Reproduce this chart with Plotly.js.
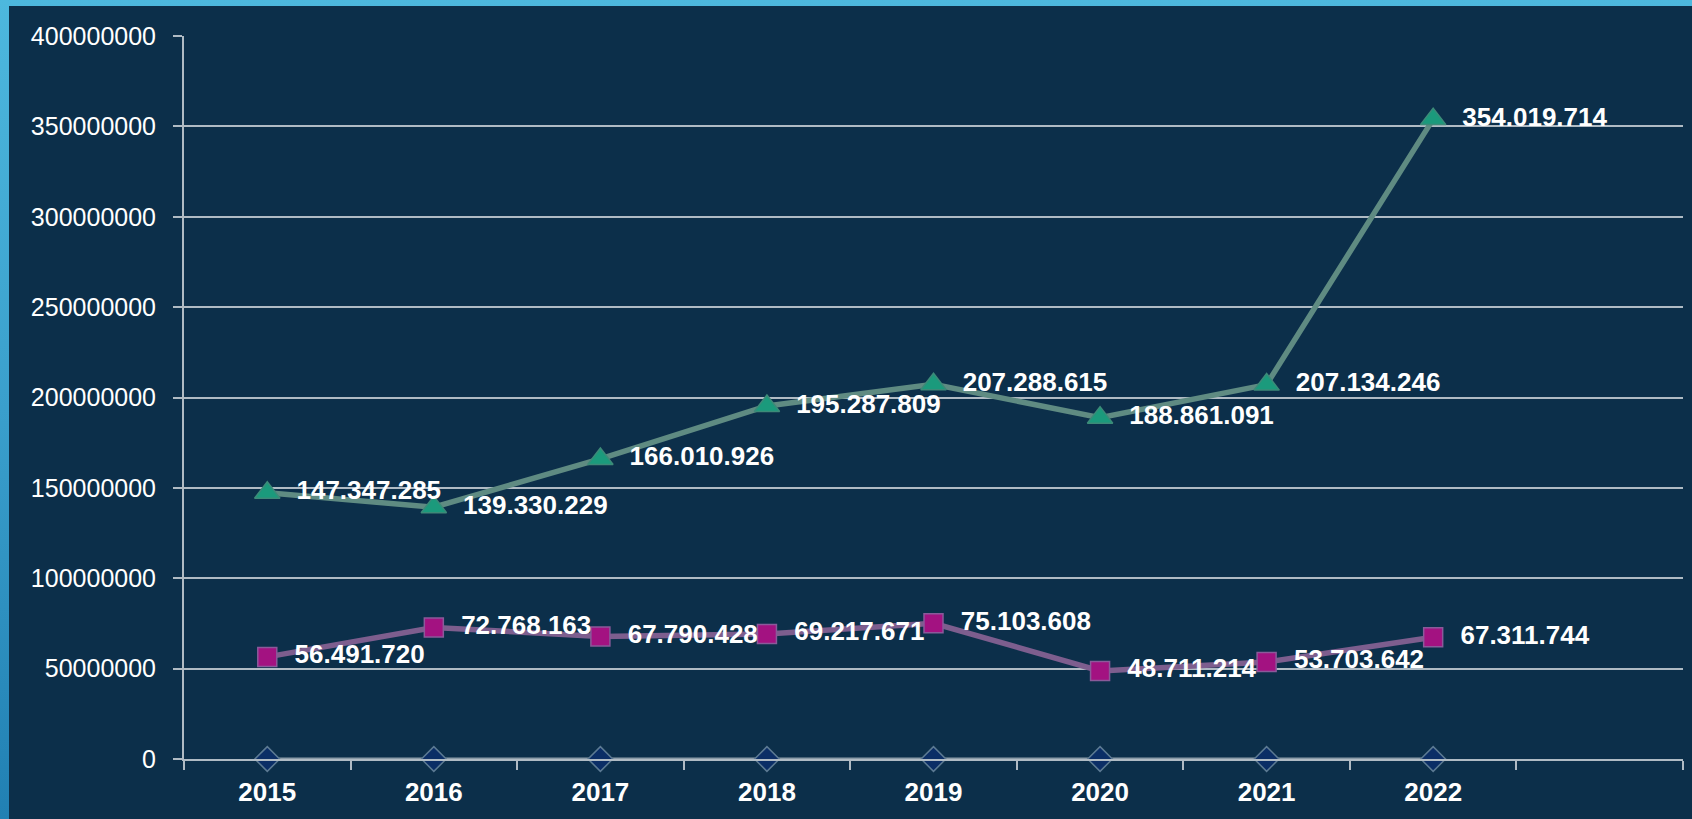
<!DOCTYPE html>
<html>
<head>
<meta charset="utf-8">
<script src="https://cdn.plot.ly/plotly-3.0.1.min.js"></script>
<style>
  html, body { margin: 0; padding: 0; width: 1692px; height: 819px; overflow: hidden;
    background: linear-gradient(to bottom, #4DB8DE 0%, #3A9FCC 50%, #2180B3 100%); }
  #chart { position: absolute; left: 9px; top: 6px; width: 1683px; height: 813px; }
</style>
</head>
<body>
<div id="chart"></div>
<script>
const years = [2015, 2016, 2017, 2018, 2019, 2020, 2021, 2022];
const seriesZero = [0, 0, 0, 0, 0, 0, 0, 0];
const seriesSquare = [56491720, 72768163, 67790428, 69217671, 75103608, 48711214, 53703642, 67311744];
const seriesTriangle = [147347285, 139330229, 166010926, 195287809, 207288615, 188861091, 207134246, 354019714];

const labelFont = { family: 'Liberation Sans, Arial, sans-serif', size: 26, color: '#FFFFFF', weight: 'bold' };
const gap = '\u00a0\u00a0';

const traces = [
  {
    x: years, y: seriesZero, type: 'scatter', mode: 'lines+markers', cliponaxis: false,
    line: { color: '#8A9BA8', width: 3 },
    marker: { symbol: 'diamond', size: 19, color: '#0B2E66', line: { color: '#5C7A93', width: 1.5 } },
    hoverinfo: 'skip'
  },
  {
    x: years, y: seriesSquare, type: 'scatter', mode: 'lines+markers+text', cliponaxis: false,
    line: { color: '#7D5E8E', width: 5.5 },
    marker: { symbol: 'square', size: 19, color: '#A31281', line: { color: '#8A5A9A', width: 1.5 } },
    texttemplate: gap + '%{y:,d}', textposition: 'middle right',
    textfont: labelFont
  },
  {
    x: years, y: seriesTriangle, type: 'scatter', mode: 'lines+markers+text', cliponaxis: false,
    line: { color: '#5F8B82', width: 5.5 },
    marker: { symbol: 'triangle-up', size: 22, color: '#1B9A7C', line: { color: '#3D8A78', width: 1.5 } },
    texttemplate: gap + '%{y:,d}', textposition: 'middle right',
    textfont: labelFont
  }
];

const layout = {
  width: 1683, height: 813,
  paper_bgcolor: '#0C2F4A', plot_bgcolor: '#0C2F4A',
  margin: { l: 175, r: 9, t: 30, b: 60, pad: 0 },
  showlegend: false,
  separators: ',.',
  xaxis: {
    type: 'linear', range: [2014.5, 2023.5],
    tickmode: 'array', tickvals: years, tickformat: 'd',
    ticks: 'outside', ticklen: 9, tickcolor: 'rgba(0,0,0,0)',
    tickfont: { family: 'Liberation Sans, Arial, sans-serif', size: 26, color: '#FFFFFF', weight: 'bold' },
    showgrid: false, zeroline: false,
    showline: true, linecolor: '#B0BBC4', linewidth: 2,
    minor: { tick0: 2014.5, dtick: 1, ticks: 'outside', ticklen: 9, tickcolor: '#B0BBC4', tickwidth: 2, showgrid: false }
  },
  yaxis: {
    range: [0, 400000000], tickmode: 'linear', tick0: 0, dtick: 50000000, tickformat: 'd',
    ticks: 'outside', ticklen: 9, tickcolor: '#B0BBC4', tickwidth: 2,
    ticklabelstandoff: 12,
    tickfont: { family: 'Liberation Sans, Arial, sans-serif', size: 25, color: '#FFFFFF' },
    showgrid: true, gridcolor: '#B0BBC4', gridwidth: 2,
    zeroline: false, showline: true, linecolor: '#B0BBC4', linewidth: 2
  }
};

Plotly.newPlot('chart', traces, layout, { displayModeBar: false, staticPlot: true });
</script>
</body>
</html>
